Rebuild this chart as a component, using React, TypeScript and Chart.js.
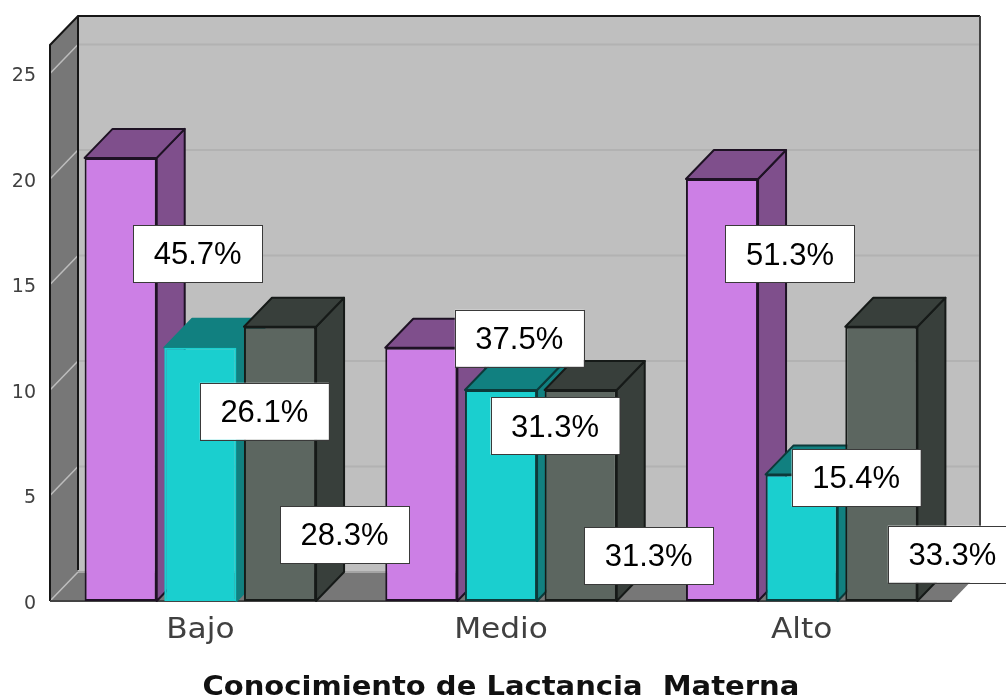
import React, { useEffect, useRef } from "react";
import { Chart, registerables } from "chart.js";

Chart.register(...registerables);

const categories = ["Bajo", "Medio", "Alto"];
const seriesPurple = [21, 12, 20];
const seriesTeal = [12, 10, 6];
const seriesDark = [13, 10, 13];
const percentPurple = ["45.7%", "37.5%", "51.3%"];
const percentTeal = ["26.1%", "31.3%", "15.4%"];
const percentDark = ["28.3%", "31.3%", "33.3%"];
const xTitle = "Conocimiento de Lactancia  Materna";

// layout only: label box centres relative to the top-centre of their bars
const labelOffsets = [
  [[77, 96], [98, -9.5], [68, 75]],
  [[64, 63.5], [54, 36], [54.5, 3.5]],
  [[64.5, 208], [68, 165.5], [71, 227.5]],
];
const percents = [percentPurple, percentTeal, percentDark];
const sideColors = ["#7F4F8C", "#118080", "#383F3B"];
const edgeColors = [
  ["#1E1224", "#1E1224", "#1E1224"],
  ["#118080", "#0C3A3A", "#0C3A3A"],
  ["#161A18", "#161A18", "#161A18"],
];
const DX = 28;
const DY = 29;

function poly(ctx: CanvasRenderingContext2D, pts: number[][], fill: string, stroke?: string, lw = 2) {
  ctx.beginPath();
  pts.forEach((p, i) => (i ? ctx.lineTo(p[0], p[1]) : ctx.moveTo(p[0], p[1])));
  ctx.closePath();
  ctx.fillStyle = fill;
  ctx.fill();
  if (stroke) {
    ctx.strokeStyle = stroke;
    ctx.lineWidth = lw;
    ctx.lineJoin = "round";
    ctx.stroke();
  }
}

const scene3d = {
  id: "scene3d",
  beforeDatasetsDraw(chart: any) {
    const ctx: CanvasRenderingContext2D = chart.ctx;
    const { left, right, top, bottom } = chart.chartArea;
    const yScale = chart.scales.y;
    ctx.save();
    // back wall
    poly(ctx, [[left + DX, top - DY], [right + DX, top - DY], [right + DX, bottom - DY], [left + DX, bottom - DY]], "#BFBFBF");
    // left wall and floor
    poly(ctx, [[left, top], [left + DX, top - DY], [left + DX, bottom - DY], [left, bottom]], "#777777");
    poly(ctx, [[left, bottom], [left + DX, bottom - DY], [right + DX, bottom - DY], [right, bottom]], "#777777");
    // grid
    yScale.ticks.forEach((t: any) => {
      const y = yScale.getPixelForValue(t.value);
      ctx.lineWidth = 2;
      ctx.strokeStyle = t.value > 0 ? "#B2B2B2" : "#A4A4A4";
      ctx.beginPath();
      ctx.moveTo(left + DX, y - DY);
      ctx.lineTo(right + DX, y - DY);
      ctx.stroke();
      ctx.strokeStyle = "#BDBDBD";
      ctx.lineWidth = 1.5;
      ctx.beginPath();
      ctx.moveTo(left, y);
      ctx.lineTo(left + DX, y - DY);
      ctx.stroke();
    });
    // outlines
    ctx.strokeStyle = "#161616";
    ctx.lineWidth = 2;
    ctx.beginPath();
    ctx.moveTo(left, bottom);
    ctx.lineTo(left, top);
    ctx.lineTo(left + DX, top - DY);
    ctx.lineTo(right + DX, top - DY);
    ctx.moveTo(left + DX, top - DY);
    ctx.lineTo(left + DX, bottom - DY - 2);
    ctx.stroke();
    ctx.strokeStyle = "#444444";
    ctx.beginPath();
    ctx.moveTo(right + DX, top - DY);
    ctx.lineTo(right + DX, bottom - DY);
    ctx.moveTo(left, bottom);
    ctx.lineTo(right, bottom);
    ctx.stroke();

    // bars, left to right, each with its depth faces
    chart.data.datasets.forEach((_: any, di: number) => {
      const meta = chart.getDatasetMeta(di);
      meta.data.forEach((bar: any, i: number) => {
        const l = bar.x - bar.width / 2;
        const r = bar.x + bar.width / 2;
        const t = bar.y;
        const b = bar.base;
        const edge = edgeColors[di][i];
        poly(ctx, [[r, t], [r + DX, t - DY], [r + DX, b - DY], [r, b]], sideColors[di], edge, 2);
        poly(ctx, [[l, t], [l + DX, t - DY], [r + DX, t - DY], [r, t]], sideColors[di], edge, 2);
      });
      meta.controller.draw();
    });
    ctx.restore();
    return false;
  },
  afterDraw(chart: any) {
    const ctx: CanvasRenderingContext2D = chart.ctx;
    ctx.save();
    ctx.font = '31px "Liberation Sans"';
    ctx.textAlign = "center";
    ctx.textBaseline = "middle";
    percents.forEach((labels, di) => {
      const meta = chart.getDatasetMeta(di);
      labels.forEach((text, i) => {
        const bar = meta.data[i] as any;
        const cx = bar.x + labelOffsets[di][i][0];
        const cy = bar.y + labelOffsets[di][i][1];
        ctx.fillStyle = "#FFFFFF";
        ctx.fillRect(cx - 64.5, cy - 28.5, 129, 57);
        ctx.strokeStyle = "#3A3A3A";
        ctx.lineWidth = 1;
        ctx.strokeRect(Math.round(cx - 64.5) + 0.5, Math.round(cy - 28.5) + 0.5, 129, 57);
        ctx.fillStyle = "#000000";
        ctx.fillText(text, cx, cy + 2);
      });
    });
    ctx.restore();
  },
};

// the reference's axis text is horizontally stretched
function stretchXAxisText(s: any) {
  const ctx = s.ctx;
  const proto = Object.getPrototypeOf(s);
  s.drawLabels = function (area: any) {
    const base = ctx.fillText;
    ctx.fillText = function (text: string, x: number, y: number) {
      ctx.save();
      ctx.translate(x, y);
      ctx.scale(1.115, 1);
      base.call(ctx, text, 0, 0);
      ctx.restore();
    };
    proto.drawLabels.call(this, area);
    delete ctx.fillText;
  };
  s.drawTitle = function () {
    ctx.save();
    ctx.translate(502, 0);
    ctx.scale(1.116, 1);
    ctx.translate(-502, 0);
    proto.drawTitle.call(this);
    ctx.restore();
  };
}

export default function App() {
  const ref = useRef<HTMLCanvasElement>(null);
  useEffect(() => {
    document.body.style.margin = "0";
    const chart = new Chart(ref.current!, {
      type: "bar",
      data: {
        labels: categories,
        datasets: [
          { data: seriesPurple, backgroundColor: "#CC7FE5", borderColor: edgeColors[0] },
          { data: seriesTeal, backgroundColor: "#1ACFCF", borderColor: ["#1ACFCF", "#0C3A3A", "#0C3A3A"] },
          { data: seriesDark, backgroundColor: "#5C6660", borderColor: edgeColors[2] },
        ],
      },
      options: {
        responsive: false,
        animation: false,
        events: [],
        layout: { padding: { left: 0, top: 45, right: 54, bottom: 0 } },
        datasets: {
          bar: {
            categoryPercentage: 0.795,
            barPercentage: 0.905,
            borderWidth: 2,
            borderSkipped: false,
          },
        },
        plugins: { legend: { display: false }, tooltip: { enabled: false }, title: { display: false } },
        scales: {
          x: {
            grid: { display: false },
            border: { display: false },
            afterFit: (s: any) => { s.height = 97; stretchXAxisText(s); },
            ticks: {
              color: "#404040",
              font: { family: "DejaVu Sans", size: 28 },
              padding: 5,
              maxRotation: 0,
            },
            title: {
              display: true,
              text: xTitle,
              color: "#111111",
              font: { family: "DejaVu Sans", size: 26, weight: "bold" },
              padding: { top: 0, bottom: -6 },
            },
          },
          y: {
            min: 0,
            max: 26.35,
            grid: { display: false, drawTicks: false },
            border: { display: false },
            afterFit: (s: any) => { s.width = 50; },
            ticks: {
              stepSize: 5,
              includeBounds: false,
              color: "#404040",
              font: { family: "DejaVu Sans", size: 19 },
              padding: 14,
              labelOffset: 3,
            },
          },
        },
      },
      plugins: [scene3d],
    } as any);
    return () => chart.destroy();
  }, []);
  return <canvas ref={ref} width={1006} height={698} style={{ display: "block" }} />;
}
